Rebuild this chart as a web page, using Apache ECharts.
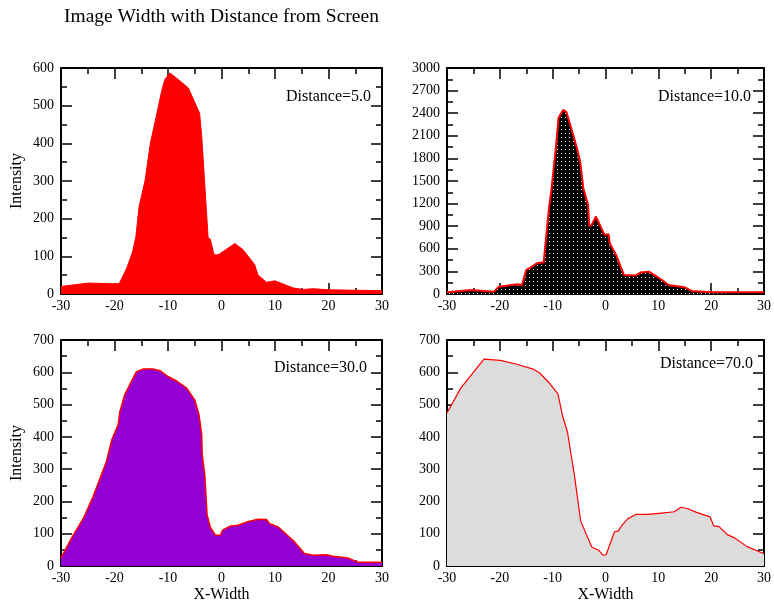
<!DOCTYPE html>
<html>
<head>
<meta charset="utf-8">
<script src="https://cdn.jsdelivr.net/npm/echarts@6/dist/echarts.min.js"></script>
<style>
html,body{margin:0;padding:0;background:#fff;}
#chart{width:774px;height:606px;}
</style>
</head>
<body>
<div id="chart"></div>
<script>
// ---- Data ----
const title = 'Image Width with Distance from Screen';
const xAxisName = 'X-Width';
const yAxisName = 'Intensity';
const xTicks = [-30, -20, -10, 0, 10, 20, 30];

const d5Label = 'Distance=5.0';
const d5X = [-30, -24.9, -19.9, -19.1, -17.7, -16.6, -16.0, -15.4, -14.3, -13.3, -12.4, -11.2, -10.6, -9.65, -9.0, -6.2, -4.1, -3.7, -2.5, -2.1, -1.4, -0.6, 2.5, 4.0, 6.2, 6.8, 8.4, 10.0, 13.4, 15.2, 17.1, 20.2, 30];
const d5Y = [20, 29, 27, 28, 69, 113, 153, 233, 300, 400, 458, 538, 569, 587, 580, 547, 480, 420, 149, 146, 104, 104, 134, 118, 78, 51, 31, 35, 16, 12, 14, 11, 9];

const d10Label = 'Distance=10.0';
const d10X = [-30, -25.5, -21.1, -20.2, -16.7, -15.8, -15.0, -14.2, -13.0, -11.7, -11.1, -10.7, -10.2, -9.4, -8.9, -8.0, -7.4, -6.4, -5.5, -4.8, -4.2, -3.3, -3.1, -2.7, -1.8, -1.5, -0.2, 0.6, 0.8, 2.0, 3.5, 5.7, 6.6, 8.2, 9.4, 10.7, 11.9, 15.0, 16.3, 20.0, 30];
const d10Y = [22, 53, 31, 97, 128, 120, 319, 350, 408, 421, 851, 1139, 1405, 1936, 2335, 2446, 2415, 2180, 1958, 1759, 1405, 1183, 908, 908, 1028, 1006, 784, 793, 673, 518, 252, 244, 284, 297, 244, 186, 120, 89, 40, 22, 22];

const d30Label = 'Distance=30.0';
const d30X = [-30, -28.0, -25.8, -24.0, -21.5, -20.5, -19.3, -19.0, -18.1, -15.9, -14.6, -12.8, -11.5, -10.0, -8.4, -6.5, -5.0, -4.2, -3.7, -3.6, -3.1, -2.7, -2.1, -1.1, -0.2, 0.2, 1.5, 3.1, 4.7, 6.8, 8.4, 9.0, 10.6, 13.4, 15.5, 17.1, 19.6, 20.8, 23.6, 25.5, 30];
const d30Y = [25, 87, 148, 215, 324, 391, 439, 478, 530, 602, 610, 610, 605, 587, 573, 551, 514, 468, 406, 344, 277, 159, 120, 95, 95, 111, 123, 126, 136, 145, 144, 131, 121, 79, 39, 33, 35, 30, 25, 12, 12];

const d70Label = 'Distance=70.0';
const d70X = [-30, -27.4, -23.0, -19.9, -16.8, -13.7, -12.4, -10.6, -9.0, -8.1, -7.2, -5.9, -4.7, -2.6, -1.3, -0.5, -0.2, 0.1, 1.7, 2.4, 3.1, 4.2, 5.8, 8.1, 10.6, 13.0, 14.3, 15.5, 17.1, 19.8, 20.5, 21.5, 23.0, 24.3, 26.8, 30];
const d70Y = [474, 551, 641, 637, 625, 610, 597, 566, 533, 463, 415, 283, 139, 59, 49, 34, 36, 34, 106, 108, 126, 146, 160, 160, 164, 168, 182, 178, 167, 152, 124, 122, 98, 88, 60, 38];

const yRanges = [
  {max: 600, interval: 100},
  {max: 3000, interval: 300},
  {max: 700, interval: 100},
  {max: 700, interval: 100}
];

function pairs(xs, ys) { return xs.map((x, i) => [x, ys[i]]); }

// dotted pattern for panel 2
const pat = document.createElement('canvas');
pat.width = 4; pat.height = 4;
const pc = pat.getContext('2d');
pc.fillStyle = '#000'; pc.fillRect(0, 0, 4, 4);
pc.fillStyle = '#e8e8e8'; pc.fillRect(1, 1, 1, 1);

const FONT = 'Liberation Serif';
const grids = [
  {left: 61, top: 68, width: 321, height: 226},
  {left: 447, top: 68, width: 321, height: 226},
  {left: 61, top: 340, width: 321, height: 226},
  {left: 447, top: 340, width: 321, height: 226}
];
// label placement (right edge, top) per panel
const labelPos = [[371, 89], [751, 89], [367, 360], [753, 356]];

const panels = [
  {data: pairs(d5X, d5Y), label: d5Label, fill: '#ff0000', line: '#ff0000', lw: 1, yName: yAxisName, xName: ''},
  {data: pairs(d10X, d10Y), label: d10Label, fill: {image: pat, repeat: 'repeat'}, line: '#ff0000', lw: 2, yName: '', xName: ''},
  {data: pairs(d30X, d30Y), label: d30Label, fill: '#9400d3', line: '#ff0000', lw: 1.5, yName: yAxisName, xName: xAxisName},
  {data: pairs(d70X, d70Y), label: d70Label, fill: '#dcdcdc', line: '#ff0000', lw: 1.2, yName: '', xName: xAxisName}
];

const xAxes = [], yAxes = [], series = [], graphics = [];
const axisLine = {show: true, onZero: false, lineStyle: {color: '#000', width: 2}};
const tickStyle = {color: '#000', width: 1.5};

panels.forEach((p, i) => {
  // bottom x axis
  xAxes.push({
    type: 'value', gridIndex: i, min: -30, max: 30, interval: 10, position: 'bottom',
    name: p.xName, nameLocation: 'middle', nameGap: 21,
    nameTextStyle: {fontFamily: FONT, fontSize: 16, color: '#000'},
    axisLine: axisLine,
    axisTick: {show: true, inside: true, length: 11, lineStyle: tickStyle},
    minorTick: {show: true, splitNumber: 2, length: 6, lineStyle: tickStyle},
    axisLabel: {show: true, margin: 5, fontFamily: FONT, fontSize: 14, color: '#000',
      formatter: v => xTicks.includes(v) ? String(v) : ''},
    splitLine: {show: false}, minorSplitLine: {show: false}
  });
  // top mirror x axis
  xAxes.push({
    type: 'value', gridIndex: i, min: -30, max: 30, interval: 10, position: 'top',
    axisLine: axisLine,
    axisTick: {show: true, inside: true, length: 11, lineStyle: tickStyle},
    minorTick: {show: true, splitNumber: 2, length: 6, lineStyle: tickStyle},
    axisLabel: {show: false}, splitLine: {show: false}
  });
  const yr = yRanges[i];
  yAxes.push({
    type: 'value', gridIndex: i, min: 0, max: yr.max, interval: yr.interval, position: 'left',
    name: p.yName, nameLocation: 'middle', nameGap: 36,
    nameTextStyle: {fontFamily: FONT, fontSize: 16, color: '#000'},
    axisLine: axisLine,
    axisTick: {show: true, inside: true, length: 11, lineStyle: tickStyle},
    minorTick: {show: true, splitNumber: 2, length: 6, lineStyle: tickStyle},
    axisLabel: {show: true, margin: 7, fontFamily: FONT, fontSize: 14, color: '#000',
      formatter: v => String(v)},
    splitLine: {show: false}, minorSplitLine: {show: false}
  });
  yAxes.push({
    type: 'value', gridIndex: i, min: 0, max: yr.max, interval: yr.interval, position: 'right',
    axisLine: axisLine,
    axisTick: {show: true, inside: true, length: 11, lineStyle: tickStyle},
    minorTick: {show: true, splitNumber: 2, length: 6, lineStyle: tickStyle},
    axisLabel: {show: false}, splitLine: {show: false}
  });
  series.push({
    type: 'line', xAxisIndex: 2 * i, yAxisIndex: 2 * i, data: p.data,
    symbol: 'none', smooth: false, z: 1,
    lineStyle: {color: p.line, width: p.lw},
    areaStyle: {color: p.fill, opacity: 1, origin: 'start'}
  });
  graphics.push({
    type: 'text', right: 774 - labelPos[i][0], top: labelPos[i][1],
    style: {text: p.label, font: '16px "' + FONT + '"', fill: '#000'}
  });
});

const chart = echarts.init(document.getElementById('chart'), null, {renderer: 'canvas'});
chart.setOption({
  animation: false,
  backgroundColor: '#fff',
  title: {text: title, left: 59, top: 2,
    textStyle: {fontFamily: FONT, fontSize: 19.5, fontWeight: 'normal', color: '#000'}},
  grid: grids,
  xAxis: xAxes,
  yAxis: yAxes,
  series: series,
  graphic: graphics
});
</script>
</body>
</html>
